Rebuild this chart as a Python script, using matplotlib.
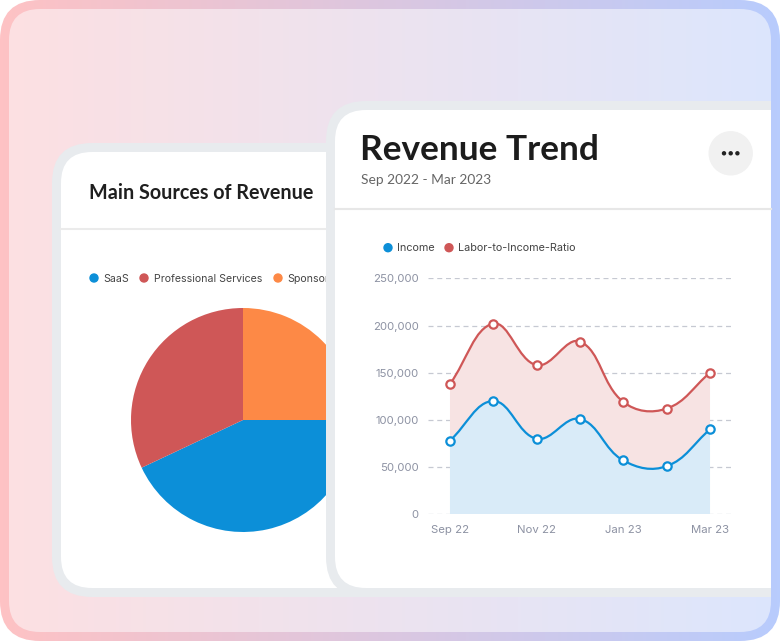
# Revenue dashboard mock: pie card behind, line chart card in front

import numpy as np
import matplotlib.pyplot as plt
from matplotlib.patches import FancyBboxPatch, Circle, PathPatch
from matplotlib.path import Path
from matplotlib.colors import LinearSegmentedColormap

# data
months = ['Sep 22', 'Oct 22', 'Nov 22', 'Dec 22', 'Jan 23', 'Feb 23', 'Mar 23']
income = [78000, 120000, 80000, 101000, 57000, 51000, 90000]
labor_ratio = [138000, 202000, 158000, 183000, 119000, 112000, 150000]
y_ticks = [0, 50000, 100000, 150000, 200000, 250000]
x_tick_labels = ['Sep 22', 'Nov 22', 'Jan 23', 'Mar 23']

sources = ['SaaS', 'Professional Services', 'Sponsorship']
source_share = [43, 32, 25]

# colours
blue = '#0c8fd8'
red = '#cf5757'
orange = '#fd8946'
card_gray = '#e8ebee'

W, H = 780, 641
fig = plt.figure(figsize=(7.8, 6.41), dpi=100)


def rbox(ax, x0, y0, x1, y1, r, **kw):
    p = FancyBboxPatch((x0, y0), x1 - x0, y1 - y0,
                       boxstyle='round,pad=0,rounding_size=%g' % r, **kw)
    ax.add_patch(p)
    return p


def pixel_axes(z):
    a = fig.add_axes([0, 0, 1, 1], zorder=z)
    a.set_xlim(0, W)
    a.set_ylim(H, 0)
    a.axis('off')
    a.patch.set_alpha(0)
    return a


# ---- background frame with horizontal gradient ----
bg = pixel_axes(0)
grad = np.linspace(0, 1, 256).reshape(1, -1)
outer = rbox(bg, 0, 0, W, H, 40, facecolor='none', edgecolor='none')
inner = rbox(bg, 9, 9, 771, 632, 31, facecolor='none', edgecolor='none')
cm_border = LinearSegmentedColormap.from_list('b', ['#fec2c4', '#b8ccfd'])
cm_inner = LinearSegmentedColormap.from_list('i', ['#fde0e2', '#dce6fd'])
im1 = bg.imshow(grad, cmap=cm_border, extent=(0, W, H, 0), aspect='auto', zorder=0)
im1.set_clip_path(outer)
im2 = bg.imshow(grad, cmap=cm_inner, extent=(0, W, H, 0), aspect='auto', zorder=1)
im2.set_clip_path(inner)
bg.set_xlim(0, W)
bg.set_ylim(H, 0)

# ---- left card ----
rbox(bg, 52, 143, 420, 597, 40, facecolor=card_gray, edgecolor='none', zorder=2)
rbox(bg, 61, 152, 420, 588, 31, facecolor='white', edgecolor='none', zorder=3)
bg.plot([61, 330], [229, 229], color='#ebebeb', lw=1.5, zorder=4)
bg.text(89, 199, 'Main Sources of Revenue', fontsize=14.2, fontweight='bold',
        family='Lato', color='#1f1f1f', va='baseline', zorder=5)
leg_x = [94, 144, 278]
for lx, name, c in zip(leg_x, sources, [blue, red, orange]):
    bg.add_patch(Circle((lx, 278), 4, color=c, zorder=5))
    bg.text(lx + 9.5, 278.5, name, fontsize=7.6, family='Inter', color='#444444',
            va='center', zorder=5)

# pie
pie_ax = fig.add_axes([(243 - 112) / W, (H - 532) / H, 224 / W, 224 / H], zorder=2)
pie_ax.pie(source_share, colors=[blue, red, orange], startangle=0,
           counterclock=False, radius=1, wedgeprops={'linewidth': 0})
pie_ax.set_xlim(-1, 1)
pie_ax.set_ylim(-1, 1)
pie_ax.axis('off')

# ---- right card (overlay) ----
ov = pixel_axes(5)
clip = rbox(ov, 9, 9, 771, 632, 31, facecolor='none', edgecolor='none')
g = rbox(ov, 326, 101, 840, 597, 40, facecolor=card_gray, edgecolor='none', zorder=1)
w = rbox(ov, 335, 110, 840, 588, 31, facecolor='white', edgecolor='none', zorder=2)
g.set_clip_path(clip)
w.set_clip_path(clip)
ov.plot([335, 771], [209, 209], color='#e7e7e7', lw=1.5, zorder=3)
ov.text(360, 159.5, 'Revenue Trend', fontsize=25.4, fontweight='bold', family='Lato',
        color='#1c1c1c', va='baseline', zorder=4)
ov.text(361, 183.5, 'Sep 2022 - Mar 2023', fontsize=9.9, family='Lato',
        color='#666666', va='baseline', zorder=4)
ov.add_patch(Circle((730.7, 153.3), 21.5, color='#f1f1f1', zorder=3))
for dx in [-6.7, 0, 6.7]:
    ov.add_patch(Circle((730.7 + dx, 153.3), 1.5, color='#222222', zorder=4))
for lx, name, c in zip([388, 449], ['Income', 'Labor-to-Income-Ratio'], [blue, red]):
    ov.add_patch(Circle((lx, 247.7), 4, color=c, zorder=4))
    ov.text(lx + 9, 248.2, name, fontsize=7.8, family='Inter', color='#444444',
            va='center', zorder=4)

# ---- line chart ----
ax = fig.add_axes([428.3 / W, (H - 514.3) / H, 303.4 / W, 236 / H], zorder=10)
ax.patch.set_alpha(0)
x = np.arange(len(months))
ax.set_xlim(-0.5, len(months) - 0.5)
ax.set_ylim(0, 250000)
ax.set_yticks(y_ticks, labels=['{:,}'.format(v) for v in y_ticks])
ax.set_xticks([0, 2, 4, 6], labels=x_tick_labels)
ax.tick_params(length=0, labelsize=8.2, labelcolor='#8d92a3')
ax.tick_params(axis='y', pad=7)
ax.tick_params(axis='x', pad=8)
for lab in ax.get_xticklabels() + ax.get_yticklabels():
    lab.set_family('Inter')
for s in ax.spines.values():
    s.set_visible(False)
ax.grid(axis='y', linestyle=(0, (4, 3)), color='#c6c9d2', lw=0.9)
ax.set_axisbelow(True)


def spline_verts(xs, ys, tension=0.4):
    # bezier control points like chart.js, computed in pixel space
    pts = ax.transData.transform(np.column_stack([xs, ys]))
    n = len(pts)
    cps = []
    for i in range(n):
        prev = pts[max(i - 1, 0)]
        cur = pts[i]
        nxt = pts[min(i + 1, n - 1)]
        d01 = np.hypot(*(cur - prev))
        d12 = np.hypot(*(nxt - cur))
        tot = d01 + d12
        fa = tension * d01 / tot
        fb = tension * d12 / tot
        cps.append((cur - fa * (nxt - prev), cur + fb * (nxt - prev)))
    verts = [pts[0]]
    for i in range(n - 1):
        verts += [cps[i][1], cps[i + 1][0], pts[i + 1]]
    return ax.transData.inverted().transform(np.array(verts))


v_inc = spline_verts(x, income)
v_lab = spline_verts(x, labor_ratio)
curve_codes = [Path.MOVETO] + [Path.CURVE4] * (len(v_inc) - 1)

# fills
fill_inc = np.vstack([v_inc, [[x[-1], 0], [x[0], 0], v_inc[0]]])
codes_inc = curve_codes + [Path.LINETO, Path.LINETO, Path.CLOSEPOLY]
ax.add_patch(PathPatch(Path(fill_inc, codes_inc), facecolor='#d9ebf8',
                       edgecolor='none', zorder=1))
fill_lab = np.vstack([v_lab, v_inc[::-1], v_lab[:1]])
codes_lab = curve_codes + [Path.LINETO] + [Path.CURVE4] * (len(v_inc) - 1) + [Path.CLOSEPOLY]
ax.add_patch(PathPatch(Path(fill_lab, codes_lab), facecolor='#f7e3e3',
                       edgecolor='none', zorder=1))

# lines and points
for verts, c, vals in [(v_lab, red, labor_ratio), (v_inc, blue, income)]:
    ax.add_patch(PathPatch(Path(verts, curve_codes), facecolor='none', edgecolor=c,
                           lw=1.6, zorder=3, capstyle='round', joinstyle='round'))
    ax.plot(x, vals, 'o', mfc='white', mec=c, ms=6, mew=1.6, zorder=4, clip_on=False)

fig.savefig('out.png', dpi=100)
